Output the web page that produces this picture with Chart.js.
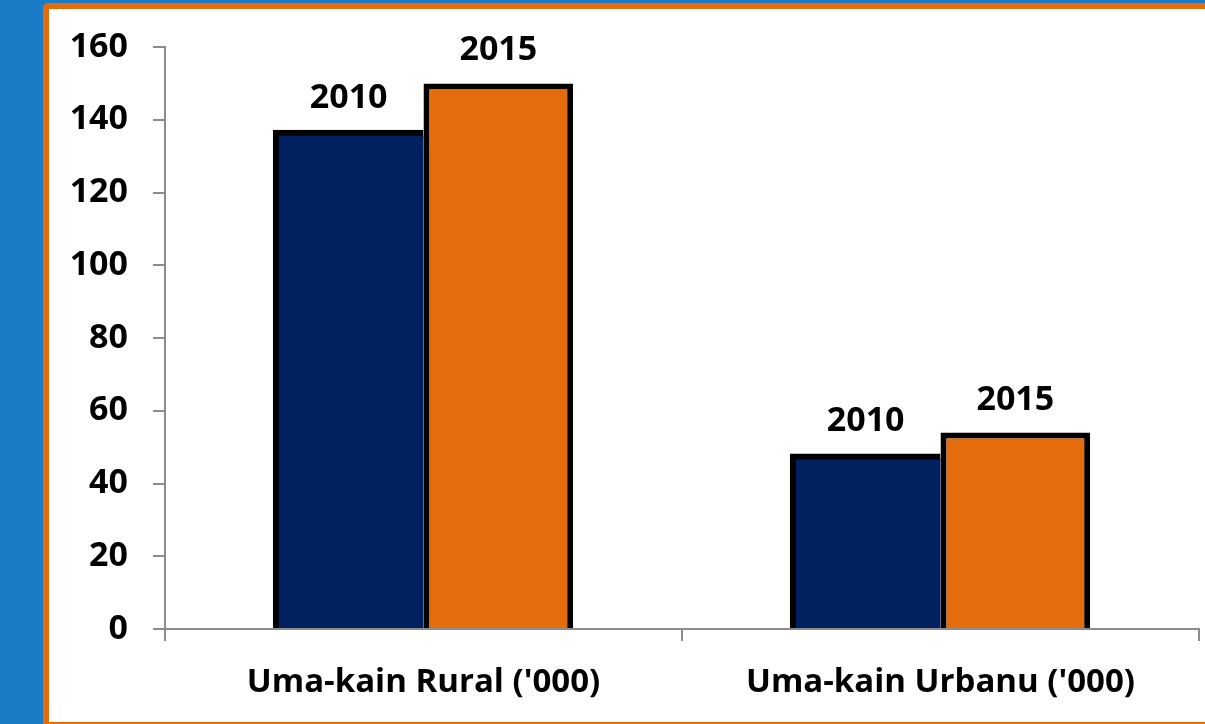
<!DOCTYPE html>
<html>
<head>
<meta charset="utf-8">
<script src="https://cdn.jsdelivr.net/npm/chart.js@4/dist/chart.umd.min.js"></script>
<style>
  html, body { margin: 0; padding: 0; }
  body { width: 1205px; height: 724px; background: #1a7bc6; overflow: hidden; position: relative; }
  #panel {
    position: absolute; left: 43px; top: 3px; width: 1300px; height: 725px;
    box-sizing: border-box; border: 6px solid #e46c0a; border-radius: 5px; background: #fff;
  }
  #wrap { position: absolute; left: 49px; top: 9px; width: 1156px; height: 713px; }
</style>
</head>
<body>
<div id="panel"></div>
<div id="wrap"><canvas id="chart"></canvas></div>
<script>
// Данные
const categories = ["Uma-kain Rural ('000)", "Uma-kain Urbanu ('000)"];
const seriesNames = ['2010', '2015'];
const values2010 = [137, 48];
const values2015 = [150, 54];
const yTicks = [0, 20, 40, 60, 80, 100, 120, 140, 160];

const FONT = "'Open Sans', sans-serif";

// Подписи серий над столбцами
const seriesLabels = {
    id: 'seriesLabels',
    afterDatasetsDraw(chart) {
        const ctx = chart.ctx;
        ctx.save();
        ctx.font = `bold 34px ${FONT}`;
        ctx.fillStyle = '#000';
        ctx.textAlign = 'center';
        ctx.textBaseline = 'alphabetic';
        chart.data.datasets.forEach((ds, i) => {
            chart.getDatasetMeta(i).data.forEach(bar => {
                ctx.fillText(ds.label, bar.x, bar.y - 23);
            });
        });
        ctx.restore();
    }
};

new Chart(document.getElementById('chart'), {
    type: 'bar',
    data: {
        labels: categories,
        datasets: [
            {
                label: seriesNames[0],
                data: values2010,
                backgroundColor: '#002060',
                borderColor: '#000',
                borderWidth: { top: 6, left: 6, right: 0, bottom: 0 },
                inflateAmount: 1
            },
            {
                label: seriesNames[1],
                data: values2015,
                backgroundColor: '#e46c0a',
                borderColor: '#000',
                borderWidth: { top: 6, left: 6, right: 6, bottom: 0 }
            }
        ]
    },
    options: {
        responsive: true,
        maintainAspectRatio: false,
        animation: false,
        layout: { padding: { top: 38, right: 6, left: 0, bottom: 0 } },
        datasets: { bar: { barPercentage: 1, categoryPercentage: 0.579 } },
        plugins: {
            legend: { display: false },
            tooltip: { enabled: false }
        },
        scales: {
            x: {
                grid: { offset: true, drawOnChartArea: false, drawTicks: true, tickLength: 12, color: '#8c8c8c', lineWidth: 2 },
                border: { color: '#8c8c8c', width: 2 },
                ticks: { color: '#000', font: { family: FONT, size: 33, weight: 'bold' }, padding: 22, maxRotation: 0 },
                afterFit(scale) {
                    scale.height = 93;
                    scale.paddingLeft = 0;
                    scale.paddingRight = 0;
                }
            },
            y: {
                min: 0,
                max: 160,
                afterBuildTicks(scale) { scale.ticks = yTicks.map(v => ({ value: v })); },
                grid: { drawOnChartArea: false, drawTicks: true, tickLength: 12, color: '#8c8c8c', lineWidth: 2 },
                border: { color: '#8c8c8c', width: 2 },
                ticks: { color: '#000', font: { family: FONT, size: 34, weight: 'bold' }, padding: 25 },
                afterFit(scale) {
                    scale.width = 116;
                    scale.paddingTop = 0;
                    scale.paddingBottom = 0;
                }
            }
        }
    },
    plugins: [seriesLabels]
});
</script>
</body>
</html>
